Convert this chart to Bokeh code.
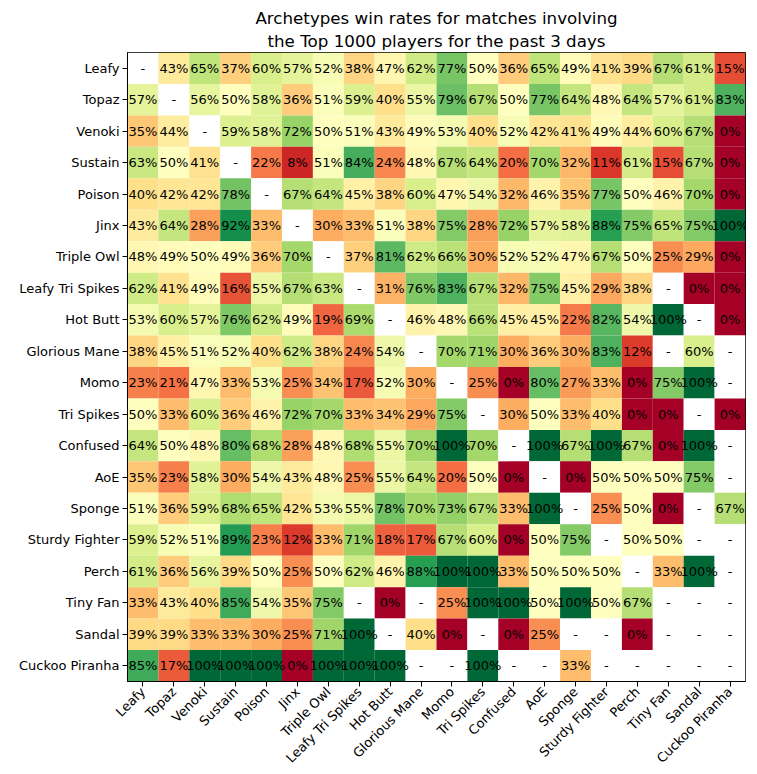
import numpy as np
from bokeh.plotting import figure
from bokeh.models import ColumnDataSource, LinearColorMapper, FactorRange, Title
from bokeh.core.properties import value
from bokeh.embed import file_html
from bokeh.resources import INLINE

# Archetype names (rows = player archetype, columns = opponent archetype)
archetypes = [
    "Leafy", "Topaz", "Venoki", "Sustain", "Poison", "Jinx", "Triple Owl",
    "Leafy Tri Spikes", "Hot Butt", "Glorious Mane", "Momo", "Tri Spikes",
    "Confused", "AoE", "Sponge", "Sturdy Fighter", "Perch", "Tiny Fan",
    "Sandal", "Cuckoo Piranha",
]

title_lines = [
    "Archetypes win rates for matches involving",
    "the Top 1000 players for the past 3 days",
]

# Win rates in percent; None = no matches recorded
N = None
win_rates = [
    [N, 43, 65, 37, 60, 57, 52, 38, 47, 62, 77, 50, 36, 65, 49, 41, 39, 67, 61, 15],
    [57, N, 56, 50, 58, 36, 51, 59, 40, 55, 79, 67, 50, 77, 64, 48, 64, 57, 61, 83],
    [35, 44, N, 59, 58, 72, 50, 51, 43, 49, 53, 40, 52, 42, 41, 49, 44, 60, 67, 0],
    [63, 50, 41, N, 22, 8, 51, 84, 24, 48, 67, 64, 20, 70, 32, 11, 61, 15, 67, 0],
    [40, 42, 42, 78, N, 67, 64, 45, 38, 60, 47, 54, 32, 46, 35, 77, 50, 46, 70, 0],
    [43, 64, 28, 92, 33, N, 30, 33, 51, 38, 75, 28, 72, 57, 58, 88, 75, 65, 75, 100],
    [48, 49, 50, 49, 36, 70, N, 37, 81, 62, 66, 30, 52, 52, 47, 67, 50, 25, 29, 0],
    [62, 41, 49, 16, 55, 67, 63, N, 31, 76, 83, 67, 32, 75, 45, 29, 38, N, 0, 0],
    [53, 60, 57, 76, 62, 49, 19, 69, N, 46, 48, 66, 45, 45, 22, 82, 54, 100, N, 0],
    [38, 45, 51, 52, 40, 62, 38, 24, 54, N, 70, 71, 30, 36, 30, 83, 12, N, 60, N],
    [23, 21, 47, 33, 53, 25, 34, 17, 52, 30, N, 25, 0, 80, 27, 33, 0, 75, 100, N],
    [50, 33, 60, 36, 46, 72, 70, 33, 34, 29, 75, N, 30, 50, 33, 40, 0, 0, N, 0],
    [64, 50, 48, 80, 68, 28, 48, 68, 55, 70, 100, 70, N, 100, 67, 100, 67, 0, 100, N],
    [35, 23, 58, 30, 54, 43, 48, 25, 55, 64, 20, 50, 0, N, 0, 50, 50, 50, 75, N],
    [51, 36, 59, 68, 65, 42, 53, 55, 78, 70, 73, 67, 33, 100, N, 25, 50, 0, N, 67],
    [59, 52, 51, 89, 23, 12, 33, 71, 18, 17, 67, 60, 0, 50, 75, N, 50, 50, N, N],
    [61, 36, 56, 39, 50, 25, 50, 62, 46, 88, 100, 100, 33, 50, 50, 50, N, 33, 100, N],
    [33, 43, 40, 85, 54, 35, 75, N, 0, N, 25, 100, 100, 50, 100, 50, 67, N, N, N],
    [39, 39, 33, 33, 30, 25, 71, 100, N, 40, 0, N, 0, 25, N, N, 0, N, N, N],
    [85, 17, 100, 100, 100, 0, 100, 100, 100, N, N, 100, N, N, 33, N, N, N, N, N],
]

# Red-yellow-green diverging palette, interpolated to 256 steps
anchors = ["#a50026", "#d73027", "#f46d43", "#fdae61", "#fee08b", "#ffffbf",
           "#d9ef8b", "#a6d96a", "#66bd63", "#1a9850", "#006837"]
rgb = np.array([[int(c[i:i + 2], 16) for i in (1, 3, 5)] for c in anchors], float)
pos = np.linspace(0, 1, len(anchors))
t = np.linspace(0, 1, 256)
palette = ["#%02x%02x%02x" % tuple(int(round(np.interp(v, pos, rgb[:, k]))) for k in range(3))
           for v in t]

xs, ys, vals, labels = [], [], [], []
for r, row_name in enumerate(archetypes):
    for c, col_name in enumerate(archetypes):
        v = win_rates[r][c]
        xs.append(col_name)
        ys.append(row_name)
        vals.append(np.nan if v is None else float(v))
        labels.append("-" if v is None else f"{v}%")

source = ColumnDataSource(dict(x=xs, y=ys, val=vals, label=labels))
mapper = LinearColorMapper(palette=palette, low=0, high=100, nan_color="white")

p = figure(
    width=757, height=774,
    x_range=FactorRange(*archetypes),
    y_range=FactorRange(*reversed(archetypes)),
    output_backend="svg", toolbar_location=None,
    min_border_left=127, min_border_right=12, min_border_top=52, min_border_bottom=88,
)

p.rect(x="x", y="y", width=1, height=1, source=source,
       fill_color={"field": "val", "transform": mapper}, line_color=None)
p.text(x="x", y="y", text="label", source=source,
       text_align="center", text_baseline="middle",
       text_font=value("DejaVu Sans"), text_font_size="13px", text_color="black")

# Two centred title lines; the one added last sits on top
for i, line in enumerate(reversed(title_lines)):
    p.add_layout(Title(text=line, align="center", text_font="DejaVu Sans",
                       text_font_style="normal", text_font_size="16.7px",
                       text_color="black", text_line_height=0.9,
                       standoff=3 if i == 0 else 0, offset=0), "above")

p.grid.grid_line_color = None
p.outline_line_color = "black"
p.outline_line_width = 1
p.background_fill_color = "white"

for ax in (p.xaxis[0], p.yaxis[0]):
    ax.axis_line_color = "black"
    ax.major_tick_line_color = "black"
    ax.major_tick_out = 5
    ax.major_tick_in = 0
    ax.minor_tick_line_color = None
    ax.major_label_text_font = "DejaVu Sans"
    ax.major_label_text_font_size = "13px"
    ax.major_label_text_color = "black"
    ax.major_label_standoff = 3

p.xaxis.major_label_orientation = np.pi / 4

open("out.html", "w").write(file_html(p, INLINE))
